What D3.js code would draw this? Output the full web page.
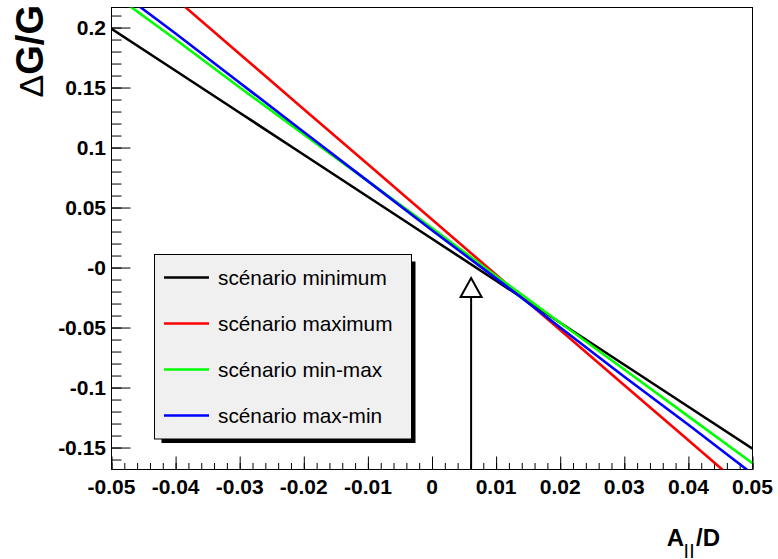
<!DOCTYPE html>
<html>
<head>
<meta charset="utf-8">
<script src="https://cdn.jsdelivr.net/npm/d3@7"></script>
<style>
  html, body { margin: 0; padding: 0; background: #fff; }
  svg { display: block; }
  text { font-family: "Liberation Sans", Arial, Helvetica, sans-serif; }
</style>
</head>
<body>
<svg id="chart" width="778" height="559"></svg>
<script>
// ---- data ----
const xValues = [-0.05, -0.04, -0.03, -0.02, -0.01, 0, 0.01, 0.02, 0.03, 0.04, 0.05];
const seriesNames = ["scénario minimum", "scénario maximum", "scénario min-max", "scénario max-min"];
const seriesColors = ["#000000", "#ff0000", "#00ff00", "#0000ff"];
const yMinimum = [0.199, 0.164, 0.129, 0.094, 0.059, 0.024, -0.011, -0.046, -0.081, -0.116, -0.151];
const yMaximum = [0.270, 0.224, 0.178, 0.132, 0.086, 0.040, -0.006, -0.052, -0.098, -0.144, -0.190];
const yMinMax  = [0.229, 0.190, 0.150, 0.111, 0.072, 0.033, -0.007, -0.046, -0.085, -0.124, -0.163];
const yMaxMin  = [0.235, 0.195, 0.154, 0.113, 0.072, 0.031, -0.009, -0.050, -0.091, -0.131, -0.172];
const seriesValues = [yMinimum, yMaximum, yMinMax, yMaxMin];
const xTickValues = [-0.05, -0.04, -0.03, -0.02, -0.01, 0, 0.01, 0.02, 0.03, 0.04, 0.05];
const xTickLabels = ["-0.05", "-0.04", "-0.03", "-0.02", "-0.01", "0", "0.01", "0.02", "0.03", "0.04", "0.05"];
const yTickValues = [0.2, 0.15, 0.1, 0.05, 0, -0.05, -0.1, -0.15];
const yTickLabels = ["0.2", "0.15", "0.1", "0.05", "-0", "-0.05", "-0.1", "-0.15"];
const xDomain = [-0.05, 0.05];
const yDomain = [-0.1683, 0.2167];
const arrowX = [0.0061];
const arrowY = [-0.1683, -0.0088];

// ---- layout ----
const L = 111.5, R = 752.5, T = 7.5, B = 469.5;
const svg = d3.select("#chart");
const x = d3.scaleLinear().domain(xDomain).range([L, R]);
const y = d3.scaleLinear().domain(yDomain).range([B, T]);

svg.append("defs").append("clipPath").attr("id", "clip")
  .append("rect").attr("x", L).attr("y", T).attr("width", R - L).attr("height", B - T);

// frame
svg.append("rect").attr("x", L).attr("y", T).attr("width", R - L).attr("height", B - T)
  .attr("fill", "none").attr("stroke", "#000").attr("stroke-width", 1);

// x axis (bottom)
const xMinor = d3.range(0, 51).map(i => xDomain[0] + i * 0.002);
const xAxisMinor = d3.axisTop(x).tickValues(xMinor).tickSize(6.5).tickFormat("");
const xAxisMajor = d3.axisTop(x).tickValues(xTickValues).tickSize(13).tickFormat("");
[xAxisMinor, xAxisMajor].forEach(ax => {
  const g = svg.append("g").attr("transform", `translate(0,${B})`).call(ax);
  g.select(".domain").remove();
  g.selectAll("line").attr("stroke", "#000").attr("stroke-width", 1);
});
svg.append("g").selectAll("text").data(xTickValues).join("text")
  .attr("x", d => x(d)).attr("y", B + 24)
  .attr("text-anchor", "middle").attr("font-weight", "bold").attr("font-size", 21)
  .text((d, i) => xTickLabels[i]);

// y axis (left)
const yMinor = d3.range(0, 40).map(i => -0.16 + i * 0.01).filter(v => v <= yDomain[1] + 1e-9);
const yAxisMinor = d3.axisRight(y).tickValues(yMinor).tickSize(10).tickFormat("");
const yAxisMajor = d3.axisRight(y).tickValues(yTickValues).tickSize(19).tickFormat("");
[yAxisMinor, yAxisMajor].forEach(ax => {
  const g = svg.append("g").attr("transform", `translate(${L},0)`).call(ax);
  g.select(".domain").remove();
  g.selectAll("line").attr("stroke", "#000").attr("stroke-width", 1);
});
svg.append("g").selectAll("text").data(yTickValues).join("text")
  .attr("x", 106).attr("y", d => y(d) + 7.5)
  .attr("text-anchor", "end").attr("font-weight", "bold").attr("font-size", 21)
  .text((d, i) => yTickLabels[i]);

// series lines
const line = d3.line().x(d => x(d[0])).y(d => y(d[1]));
const gl = svg.append("g").attr("clip-path", "url(#clip)");
seriesValues.forEach((vals, i) => {
  gl.append("path").datum(xValues.map((xv, j) => [xv, vals[j]]))
    .attr("d", line).attr("fill", "none")
    .attr("stroke", seriesColors[i]).attr("stroke-width", 2.6);
});

// arrow
const ax0 = x(arrowX[0]);
const tipY = y(arrowY[1]);
const triH = 19, triW = 10.5;
svg.append("line").attr("x1", ax0).attr("x2", ax0).attr("y1", y(arrowY[0])).attr("y2", tipY + triH)
  .attr("stroke", "#000").attr("stroke-width", 2);
svg.append("path")
  .attr("d", `M${ax0},${tipY} L${ax0 + triW},${tipY + triH} L${ax0 - triW},${tipY + triH} Z`)
  .attr("fill", "#fff").attr("stroke", "#000").attr("stroke-width", 2);

// legend
const lgX = 154.5, lgY = 254.5, lgW = 257, lgH = 184.5;
svg.append("rect").attr("x", lgX + 7).attr("y", lgY + 7).attr("width", lgW - 3).attr("height", lgH - 3)
  .attr("fill", "#000");
svg.append("rect").attr("x", lgX).attr("y", lgY).attr("width", lgW).attr("height", lgH)
  .attr("fill", "#f0f0f0").attr("stroke", "#000").attr("stroke-width", 1);
const entries = svg.append("g").selectAll("g").data(seriesNames).join("g")
  .attr("transform", (d, i) => `translate(0,${277.5 + i * 46})`);
entries.append("line").attr("x1", 164).attr("x2", 209).attr("y1", 0).attr("y2", 0)
  .attr("stroke", (d, i) => seriesColors[i]).attr("stroke-width", 2.6);
entries.append("text").attr("x", 218).attr("y", 7.5)
  .attr("font-size", 20.8).attr("fill", "#000").text(d => d);

// axis titles
const xt = svg.append("text").attr("x", 720).attr("y", 546)
  .attr("text-anchor", "end").attr("font-weight", "bold").attr("font-size", 24);
xt.append("tspan").text("A");
xt.append("tspan").attr("font-size", 14).attr("dy", 9).attr("letter-spacing", 2).text("||");
xt.append("tspan").attr("dy", -9).text("/D");

const yt = svg.append("text").attr("transform", "translate(43,5) rotate(-90)")
  .attr("text-anchor", "end").attr("font-weight", "bold").attr("font-size", 38);
yt.append("tspan").attr("font-weight", "normal").attr("font-size", 34).text("Δ");
yt.append("tspan").text("G/G");
</script>
</body>
</html>
